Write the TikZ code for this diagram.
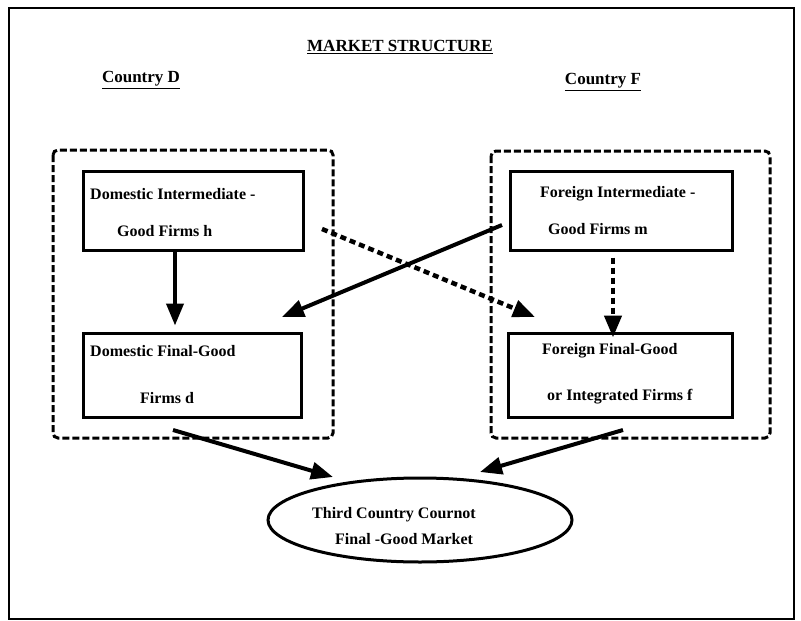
\documentclass[tikz,border=0pt]{standalone}
\usepackage{fontspec}
\setmainfont{Liberation Serif}
\usetikzlibrary{arrows.meta,shapes.geometric}
\begin{document}
\begin{tikzpicture}[x=1pt,y=-1pt,
  firmbox/.style={draw,line width=3pt,inner sep=0pt},
  groupbox/.style={draw,line width=3pt,dash pattern=on 7pt off 3pt,rounded corners=5pt},
  lbl/.style={anchor=west,inner sep=0pt,font=\fontsize{16}{19}\selectfont\bfseries},
  head/.style={anchor=center,inner sep=0pt,font=\fontsize{17}{20}\selectfont\bfseries},
  solidarrow/.style={line width=4pt,-{Triangle[length=22pt,width=17pt]}},
  dotarrow/.style={line width=4.5pt,dash pattern=on 6pt off 4pt,-{Triangle[length=22pt,width=17pt]}}
]
\useasboundingbox (0,0) rectangle (801,621);
\fill[white] (0,0) rectangle (801,621);
\draw[line width=1.8pt] (9,8) rectangle (794,619);

% headings
\node[head] (title) at (400,47) {\underline{MARKET STRUCTURE}};
\node[head] (cd) at (141,80) {\underline{Country D}};
\node[head] (cf) at (603,82) {\underline{Country F}};

% group boxes
\draw[groupbox] (53,150) rectangle (333,438);
\draw[groupbox] (491,151) rectangle (770,438);

% firm boxes
\node[firmbox,minimum width=220pt,minimum height=79pt] (DI) at (193,210.5) {};
\node[firmbox,minimum width=218pt,minimum height=84pt] (DF) at (192,375) {};
\node[firmbox,minimum width=222pt,minimum height=79pt] (FI) at (621,210.5) {};
\node[firmbox,minimum width=224pt,minimum height=84pt] (FF) at (620,375) {};

% texts
\node[lbl] (t1) at (90,194) {Domestic Intermediate -};
\node[lbl] (t2) at (117,231) {Good Firms h};
\node[lbl] (t3) at (90,351) {Domestic Final-Good};
\node[lbl] (t4) at (140,398) {Firms d};
\node[lbl] (t5) at (540,194) {Foreign Intermediate -};
\node[lbl] (t6) at (548,229) {Good Firms m};
\node[lbl] (t7) at (542,351) {Foreign Final-Good};
\node[lbl] (t8) at (547,397) {or Integrated Firms f};

% market
\node[draw,line width=3pt,ellipse,minimum width=304pt,minimum height=84pt] (M) at (420,520) {};
\node[lbl] (t9) at (312,515) {Third Country Cournot};
\node[lbl] (t10) at (335,539) {Final -Good Market};

% coordinates for free ends
\coordinate (s1) at (502,225);
\coordinate (e1) at (282,317);
\coordinate (s2) at (322,229);
\coordinate (e2) at (535,317);
\coordinate (s3) at (173,430);
\coordinate (e3) at (333,477);
\coordinate (s4) at (623,430);
\coordinate (e4) at (480,472);

% connectors
\draw[solidarrow] (DI.south -| 175,0) -- (DF.north -| 175,0) [shorten >=6pt];
\draw[dotarrow] (FI.south -| 613,0) ++(0,6) -- ([yshift=-6pt]FF.north -| 613,0);
\draw[solidarrow] (s1) -- (e1);
\draw[dotarrow] (s2) -- (e2);
\draw[solidarrow] (s3) -- (e3);
\draw[solidarrow] (s4) -- (e4);
\end{tikzpicture}
\end{document}
